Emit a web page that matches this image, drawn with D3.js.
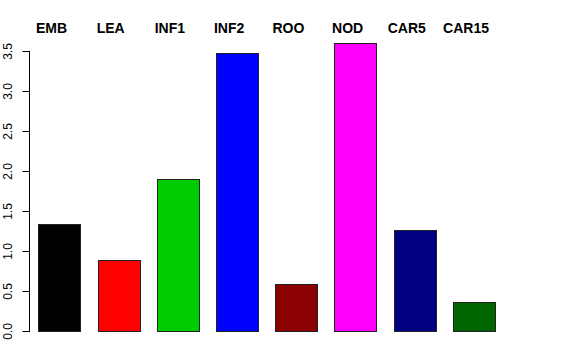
<!DOCTYPE html>
<html>
<head>
<meta charset="utf-8">
<script src="https://cdn.jsdelivr.net/npm/d3@7"></script>
<style>
html,body{margin:0;padding:0;background:#fff;}
svg{display:block;}
text{font-family:"Liberation Sans",Arial,Helvetica,sans-serif;}
</style>
</head>
<body>
<svg id="chart" width="576" height="360"></svg>
<script>
const categories = ["EMB","LEA","INF1","INF2","ROO","NOD","CAR5","CAR15"];
const values = [1.34, 0.89, 1.90, 3.47, 0.59, 3.60, 1.26, 0.36];
const colors = ["#000000","#FF0000","#00CD00","#0000FF","#8B0000","#FF00FF","#000080","#006400"];
const yTicks = [0, 0.5, 1.0, 1.5, 2.0, 2.5, 3.0, 3.5];

const svg = d3.select("#chart");

const x = d3.scaleBand().domain(categories).range([38.3, 495.2]).paddingInner(0.2857).paddingOuter(0);
const y = d3.scaleLinear().domain([0, 3.5]).range([331, 51]);

// bars
svg.append("g").selectAll("rect").data(categories).join("rect")
  .attr("x", d => Math.round(x(d)) + 0.5)
  .attr("y", (d,i) => Math.round(y(values[i])) + 0.5)
  .attr("width", Math.round(x.bandwidth()))
  .attr("height", (d,i) => Math.round(y(0)) - Math.round(y(values[i])))
  .attr("fill", (d,i) => colors[i])
  .attr("stroke", "#222")
  .attr("stroke-width", 1);

// y axis
const yAxis = d3.axisLeft(y).tickValues(yTicks).tickFormat(d3.format(".1f")).tickSize(7).tickPadding(4);
const gy = svg.append("g").attr("transform", "translate(29.5,0)").call(yAxis);
gy.select(".domain").attr("stroke", "#000").attr("d", `M-7,${y(3.5)+0.5}H0V${y(0)+0.5}H-7`);
gy.selectAll(".tick line").attr("stroke", "#000");
gy.selectAll(".tick text")
  .attr("font-size", 12)
  .attr("fill", "#000")
  .attr("text-anchor", "middle")
  .attr("transform", "rotate(-90)")
  .attr("x", 0)
  .attr("y", -17.5)
  .attr("dy", 0);
gy.select(".domain").remove();
gy.append("path").attr("d", `M0,${Math.round(y(3.5))}V${Math.round(y(0))+1}`).attr("stroke","#000").attr("fill","none");
gy.selectAll(".tick").each(function(d){
  d3.select(this).attr("transform", `translate(0,${Math.round(y(d))+0.5})`);
});

// top labels
svg.append("g").selectAll("text").data(categories).join("text")
  .attr("x", d => x(d) + x.bandwidth()/2 - 8)
  .attr("y", 33)
  .attr("text-anchor", "middle")
  .attr("font-size", 14)
  .attr("font-weight", "bold")
  .attr("fill", "#000")
  .text(d => d);
</script>
</body>
</html>
